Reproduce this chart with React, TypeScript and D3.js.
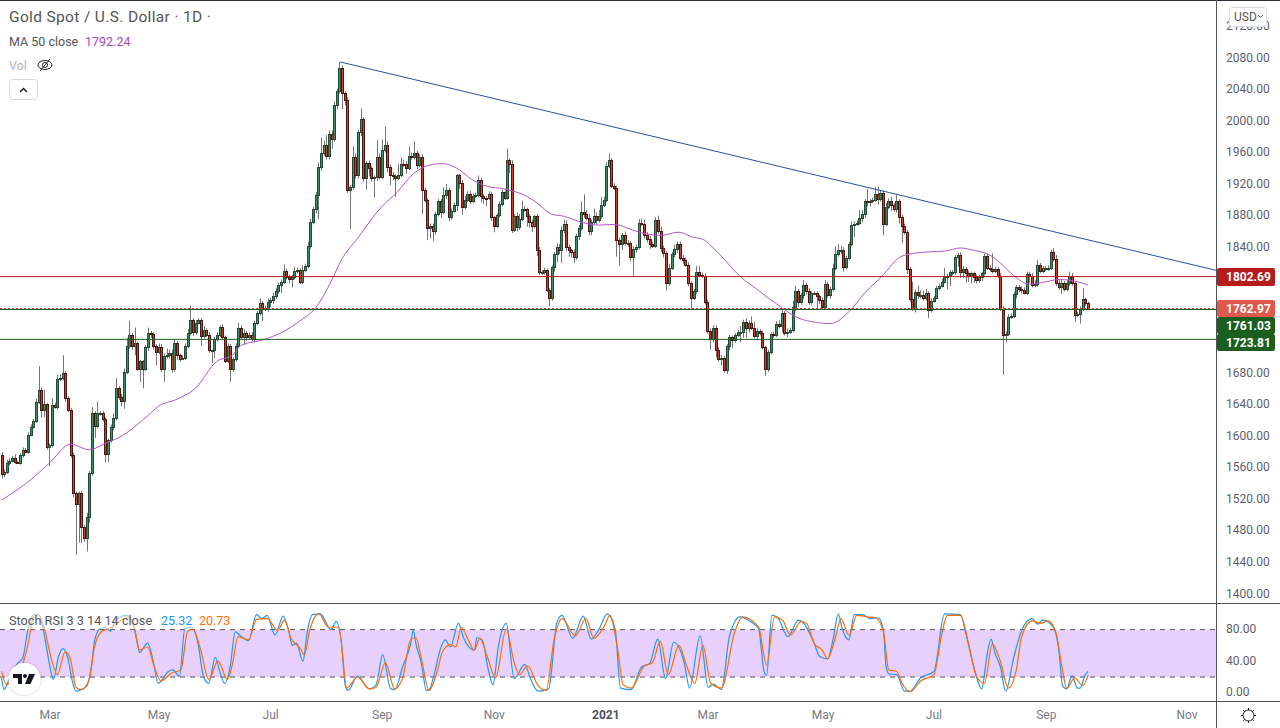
import React from "react";
import * as d3 from "d3";

const firstOpen = 1576;
const closes = [
  1552,1555,1566,1569,1572,1567,1566,1576,1583,1580,
  1602,1612,1619,1644,1659,1634,1641,1586,1589,1640,
  1637,1673,1674,1680,1649,1634,1576,1528,1514,1528,
  1485,1471,1498,1553,1629,1613,1629,1630,1622,1577,
  1595,1612,1623,1661,1650,1645,1682,1715,1728,1715,
  1718,1686,1695,1686,1713,1731,1730,1715,1707,1713,
  1686,1702,1703,1706,1685,1718,1703,1698,1700,1715,
  1731,1748,1732,1744,1748,1727,1735,1729,1709,1709,
  1723,1729,1739,1726,1696,1715,1685,1698,1715,1738,
  1726,1731,1726,1729,1723,1744,1756,1769,1762,1763,
  1771,1773,1778,1785,1792,
  1796,1810,1802,1799,1802,1810,1811,1796,1811,1816,
  1842,1872,1888,1906,1942,1959,1970,1956,1984,1977,
  2020,2038,2067,2035,2027,1912,1916,1954,1932,1986,
  2002,1928,1947,1940,1928,1929,1954,1929,1963,1969,
  1942,1931,1930,1928,1932,1946,1945,1941,1956,1954,
  1959,1944,1955,1912,1900,1864,1867,1861,1882,1898,
  1885,1906,1913,1878,1886,1894,1931,1922,1891,1900,
  1908,1898,1905,1906,1925,1905,1903,1902,1908,1878,
  1867,1881,1895,1910,1903,1950,1946,1862,1879,1865,
  1876,1889,1888,1880,1872,1867,1880,1837,1808,1808,
  1811,1786,1775,1815,1831,1840,1836,1862,1870,1840,
  1836,1834,1827,1854,1864,
  1885,1882,1877,1860,1872,
  1879,1874,1879,1894,1900,1943,1950,1918,1915,1849,
  1844,1855,1845,1845,1828,1838,1840,1871,1870,1856,
  1851,1844,1842,1875,1861,1839,1833,1794,1814,1831,
  1838,1844,1826,1824,1818,1794,1776,1784,1809,1805,
  1804,1770,1734,1724,1738,1710,1698,1700,1684,1715,
  1726,1722,1729,1732,1733,1745,1737,1744,1738,1727,
  1734,1731,1713,1685,1707,1730,1729,1743,1740,1756,
  1731,1733,1735,1764,1784,1770,
  1779,1792,1784,1770,1782,1782,1778,1773,1764,1793,
  1779,1787,1814,1831,1836,1837,1815,1826,1844,1868,
  1870,1871,1877,1882,1899,1897,1899,1900,1907,1901,
  1909,1870,1891,1899,1893,1889,1898,1878,1867,1859,
  1812,1774,1762,1783,1779,1779,1775,1782,1760,1772,
  1776,1788,1791,1796,1802,1803,1808,1808,1827,1830,
  1809,1812,1807,1804,1807,1802,1798,1802,1807,1829,
  1814,1812,1810,1812,1804,1762,1729,1730,1752,1753,
  1780,1789,1787,1786,1782,1806,1804,1792,1793,1817,
  1810,1813,1813,1814,1834,1825,1795,1789,1794,1787,
  1794,1804,1794,1754,1755,1762,1774,1769,1763,
];

// how far each wick sticks out of its body, in dollars
const upperWicks = [
  4,3,4,3,3,5,2,3,3,2, 3,3,3,4,30,3,18,1,2,8, 3,5,5,23,3,2,2,3,2,2, 3,3,5,3,8,3,15,2,2,2,
  2,3,6,13,3,4,4,10,19,3, 20,2,2,2,3,7,3,2,2,5, 4,3,8,4,4,5,3,2,3,3, 5,18,2,4,2,2,5,2,3,1,
  3,3,2,3,2,3,2,2,3,6, 3,5,3,3,3,3,3,6,3,3, 4,3,4,3,3, 3,8,3,3,3,5,3,2,6,3,
  5,4,3,4,5,20,5,12,4,4, 5,3,8,4,3,3,3,14,5,3, 14,3,2,3,3,2,22,5,14,24, 5,3,4,3,14,8,5,4,12,4,
  15,3,3,3,3,2,3,3,3,3, 3,10,7,2,3,3,2,2,3,5, 3,3,3,3,6,3,2,2,3,2, 2,2,3,3,2,15,3,4,3,5,
  6,10,3,2,2,3,1,2,3,3, 3,2,2,2,3,5,4,4,5,4, 3,2,3,3,4, 13,22,5,5,3,
  10,5,8,10,4,5,9,3,3,3, 3,3,5,4,3,3,3,5,5,5, 3,3,3,3,5,5,3,2,5,3, 5,3,3,4,3,3,3,3,7,7,
  3,3,3,3,3,3,3,3,2,2, 3,2,2,3,7,3,5,3,8,7, 3,2,3,2,3,2,3,3,4,4, 3,4,3,8,7,
  3,3,6,3,4,2,2,2,2,3, 5,3,3,5,10,8,5,3,3,3, 5,3,3,10,5,2,15,2,3,9, 10,3,3,5,3,5,3,8,3,3,
  3,3,3,22,3,8,6,6,5,2, 3,2,3,3,4,12,3,3,3,3, 3,3,4,3,3,2,2,3,3,2, 3,3,3,20,3,3,3,3,3,3,
  3,3,3,3,3,3,3,3,3,5, 7,3,3,3,3,3,5,5,3,5, 3,4,5,3,3,3,3,14,2,2,
];
const lowerWicks = [
  5,4,3,3,2,2,1,2,3,1, 2,2,2,2,3,10,10,3,24,3, 2,3,3,3,5,3,3,5,64,49, 20,5,17,8,3,15,3,3,3,10,
  10,3,4,3,4,7,10,3,4,5, 12,3,17,25,3,5,5,5,17,3, 4,17,3,4,4,3,6,3,1,3, 3,3,5,3,2,12,3,3,3,16,
  10,3,3,3,3,3,16,3,3,3, 3,10,5,3,3,4,3,3,16,3, 5,7,5,4,4, 10,3,3,5,10,3,3,3,3,3,
  3,4,3,5,30,5,3,5,5,12, 3,5,3,20,7,3,49,3,5,5, 5,5,15,10,5,25,5,3,3,3, 7,12,5,24,3,3,3,8,3,3,
  3,5,3,30,3,15,13,13,5,3, 8,3,5,5,3,2,8,8,10,3, 3,3,2,3,3,8,8,10,2,5, 8,3,3,3,3,3,12,4,3,5,
  3,3,3,14,7,8,3,8,3,3, 3,3,10,3,6,10,5,16,4,5, 8,7,7,3,5, 3,5,3,5,5,
  3,5,3,3,3,3,3,3,3,21, 28,8,3,5,6,25,5,3,3,5, 5,6,3,3,4,5,6,9,3,3, 4,5,3,5,3,4,14,3,3,3,
  3,3,4,14,5,10,3,8,3,5, 6,10,3,3,12,8,12,5,3,3, 5,3,3,8,3,3,4,3,3,8, 3,5,3,3,5,
  6,3,5,4,3,3,3,18,5,3, 3,3,4,3,3,3,5,6,3,3, 3,15,3,3,5,5,5,5,3,3, 7,3,15,3,3,7,4,5,8,22,
  3,6,3,3,5,4,4,3,3,10, 3,3,2,3,2,2,15,12,4,3, 12,8,8,12,8,10,7,4,3,5, 3,3,3,3,3,3,3,51,10,3,
  3,3,5,4,5,2,3,10,3,3, 3,3,3,3,3,3,3,4,3,8, 3,3,3,3,9,3,12,3,4,3,
];

// [bar, price]
const ma50: [number, number][] = [
  [0,1519],[11,1545],[18,1566],[26,1590],[33,1583],[39,1591],[45,1600],[55,1626],[59,1638],[66,1647],
  [73,1661],[81,1695],[87,1703],[90,1715],[99,1723],[105,1731],[113,1748],[118,1762],[124,1796],[128,1824],
  [134,1851],[143,1891],[149,1910],[155,1933],[161,1944],[166,1946],[172,1939],[177,1926],[183,1917],[189,1914],
  [198,1904],[202,1895],[207,1882],[212,1879],[217,1873],[225,1868],[231,1869],[235,1865],[240,1859],[248,1855],
  [255,1859],[260,1853],[264,1850],[270,1832],[278,1803],[285,1785],[293,1765],[300,1750],[306,1745],[312,1743],
  [319,1758],[325,1782],[332,1805],[338,1827],[343,1832],[349,1834],[355,1835],[361,1839],[366,1836],[372,1830],
  [376,1820],[381,1804],[387,1793],[393,1796],[398,1799],[404,1797],[409,1792],
];

const stochK: [number, number][] = [
  [0,19],[1,4],[2,10],[4,27],[6,37],[8,44],[10,81],[12,99],[14,99],[16,75],[18,37],[19.5,17],[21.5,46],[23,56],[25,44],[26.5,17],[28,2],[30,4],[32,8],[34,37],
  [35,65],[37,81],[39,83],[41,78],[43,92],[47,98],[49.5,87],[51,65],[52,51],[55,63],[57,42],[59,12],[61,19],[62.5,26],[64.5,29],[67,21],[69,81],[71.5,83],[74,62],[76,21],
  [78,12],[80.5,45],[82,29],[84,12],[86,31],[88,77],[90,72],[93,66],[96,99],[98,94],[100,98],[103,73],[106,97],[108,80],[109.5,60],[111,63],[113.5,40],[115,75],[117,99],[120,100],
  [124,80],[126,90],[128,62],[129.5,8],[130.5,3],[134,21],[138.5,5],[141,10],[143.5,48],[146.5,5],[148,4],[151,33],[154,62],[155,79],[156,62],[158,38],[160,3],[161,4],[163,25],[165,53],
  [167,67],[169,58],[172,88],[174,69],[178,54],[179,70],[181,67],[183,33],[185,10],[187,58],[190,88],[193,18],[197,36],[199,19],[202,2],[206,5],[209,88],[211,98],[215,69],[219,97],
  [222,68],[225,81],[228,100],[231,81],[233,6],[237,4],[241,33],[244,37],[247,68],[250,18],[253,64],[257,38],[259,6],[263,72],[266,7],[268,11],[271,4],[274,71],[278,96],[282,90],
  [285,81],[287,28],[288,22],[290,98],[292,96],[296,71],[300,92],[302,88],[306,62],[308,46],[311,43],[313,67],[315,100],[316.5,81],[319,67],[321,99],[324,99],[327,94],[330,95],[332,79],
  [333,33],[334,24],[337,23],[340,2],[342,2],[346,19],[351,27],[355,100],[361,99],[363,75],[366,33],[369,5],[371,48],[372.5,68],[374,50],[376,33],[378,2],[381,44],[384,79],[388,94],
  [390,87],[392,92],[396,83],[398,54],[399.5,8],[401,5],[403,22],[405,6],[406,6],[408,23],[409,27],
];
const stochD: [number, number][] = [
  [0,27],[2,10],[5,27],[7.5,33],[10,62],[12,96],[14,99],[16,83],[19,40],[21,23],[24,52],[26,42],[28,7],[30,4],[33,17],[35,58],[37.5,77],[40,81],[42.5,85],[47.5,96],
  [50,83],[52,54],[55,58],[57.5,33],[60,15],[64,25],[67.5,29],[70,77],[72,81],[75,54],[78,17],[81.5,40],[85,17],[87,37],[89,71],[93,67],[96,93],[100,94],[104,79],[106.5,92],
  [109,69],[112.5,56],[114,48],[116,79],[119.5,100],[123,83],[127,83],[130,6],[134,20],[138.5,5],[141,7],[144.5,38],[148,5],[151,19],[154,67],[156,70],[158,44],[161,3],[164,27],[166,52],
  [169,61],[171,58],[173,83],[176,65],[178,54],[180,69],[183,44],[186,19],[190,81],[193,38],[195,23],[198,34],[202,9],[205,3],[208,67],[211,94],[216,72],[220,94],[223,69],[227,85],
  [229,98],[232,54],[234,10],[237,6],[242,34],[245,38],[248,65],[251,23],[255,60],[258,33],[261,12],[264,60],[267,12],[271,6],[276,77],[279,96],[285,83],[288,35],[291,96],[294,92],
  [297,73],[301,90],[303,88],[306,62],[309,54],[311,43],[314,71],[316,94],[319,73],[322,98],[326,96],[329,95],[332,77],[334,29],[337,27],[339,12],[342,1],[346,15],[351,23],[354,75],
  [356,98],[361,98],[364,63],[367,21],[370,12],[373,62],[376,40],[379,6],[382,29],[384,71],[388,91],[391,88],[394,91],[397,75],[399,37],[401,6],[404,19],[407,9],[409,22],
];

const priceTicks = [2120,2080,2040,2000,1960,1920,1880,1840,1680,1640,1600,1560,1520,1480,1440,1400];
const stochTicks = [80,40,0];
const monthLabels = ["Mar","May","Jul","Sep","Nov","2021","Mar","May","Jul","Sep","Nov"];
const monthBars = [18.3,59.3,101.3,143.3,185.5,227.5,266,309.3,351,393.3,446.3];
const trendBars = [127.5,458];
const trendPrices = [2075,1810];
const levelResistance = 1802.69;
const levelBid = 1762.97;
const levelAsk = 1761.03;
const levelSupport = 1723.81;

const FONT = "Roboto, 'Noto Sans', sans-serif";
const PLOT_R = 1216;
const UP = "#3a9167", UP_EDGE = "#234a36", DOWN = "#cf3d2d", DOWN_EDGE = "#4d1510";

const bars = closes.map((c, i) => {
  const o = i === 0 ? firstOpen : closes[i - 1];
  return { i, o, c, h: Math.max(o, c) + upperWicks[i], l: Math.min(o, c) - lowerWicks[i] };
});

const x = d3.scaleLinear().domain([0, closes.length - 1]).range([1.5, 1088]);
// my bar count drifts through the winter of 2021, so candles get pinned to a few readable spots
const xCandle = d3.scaleLinear().domain([0, 189, 232, 272, 300, closes.length - 1]).range([1.5, 504.5, 611, 721, 798, 1088]);
const y = d3.scaleLinear().domain([2080, 1400]).range([58, 594]);
const yStoch = d3.scaleLinear().domain([0, 100]).range([692.8, 613.8]);

const maPath = d3.line<[number, number]>().x(d => x(d[0])).y(d => y(d[1])).curve(d3.curveMonotoneX)(ma50)!;
const stochLine = d3.line<[number, number]>().x(d => x(d[0])).y(d => yStoch(d[1])).curve(d3.curveMonotoneX);

const PriceTag = ({ value, color, top, h }: { value: number; color: string; top: number; h: number }) => (
  <g>
    <rect x={PLOT_R + 1} y={top} width={58} height={h} rx={2} fill={color} />
    <text x={1226} y={top + h / 2 + 4} fill="#fff" fontSize={12} fontWeight={700}>{value.toFixed(2)}</text>
  </g>
);

export default function App() {
  const axisText = "#5d606b";
  return (
    <svg width={1280} height={728} style={{ position: "fixed", left: 0, top: 0, background: "#fff" }} fontFamily={FONT}>
      <defs>
        <clipPath id="main"><rect x={0} y={1} width={PLOT_R} height={602} /></clipPath>
        <clipPath id="lower"><rect x={0} y={604} width={PLOT_R} height={97} /></clipPath>
        <filter id="soft" x="-30%" y="-30%" width="160%" height="160%"><feDropShadow dx={0} dy={0} stdDeviation={1.5} floodOpacity={0.25} /></filter>
      </defs>

      {/* candles */}
      <g clipPath="url(#main)">
        {bars.map(b => {
          const X = Math.round(xCandle(b.i));
          const up = b.c >= b.o;
          const top = Math.round(y(Math.max(b.o, b.c)));
          const bot = Math.round(y(Math.min(b.o, b.c)));
          return (
            <g key={b.i}>
              <line x1={X + 0.5} x2={X + 0.5} y1={y(b.h)} y2={y(b.l)} stroke="#757575" />
              <rect x={X - 0.5} y={top + 0.5} width={2} height={Math.max(bot - top, 1)}
                fill={up ? UP : DOWN} stroke={up ? UP_EDGE : DOWN_EDGE} />
            </g>
          );
        })}
        <path d={maPath} fill="none" stroke="#b553cc" strokeWidth={1} />
        <line x1={0} x2={PLOT_R} y1={y(levelResistance)} y2={y(levelResistance)} stroke="#c21a1a" />
        <line x1={0} x2={PLOT_R} y1={309.5} y2={309.5} stroke="#1b5e20" />
        <line x1={0} x2={PLOT_R} y1={308.5} y2={308.5} stroke="#e53935" strokeDasharray="2 2" />
        <line x1={0} x2={PLOT_R} y1={y(levelSupport) + 0.6} y2={y(levelSupport) + 0.6} stroke="#1b5e20" />
        <line x1={x(trendBars[0])} x2={x(trendBars[1])} y1={y(trendPrices[0])} y2={y(trendPrices[1])} stroke="#2a4fa8" />
      </g>

      {/* legend */}
      <text x={9} y={22} fontSize={15.5} letterSpacing={0.35} fill="#555">Gold Spot / U.S. Dollar · 1D ·</text>
      <text x={9} y={46} fontSize={12.5} fill="#555">MA 50 close</text>
      <text x={85} y={46} fontSize={12.5} fill="#ab47bc">1792.24</text>
      <text x={9} y={70} fontSize={12.5} fill="#b2b5be">Vol</text>
      <g stroke="#222" fill="none" strokeWidth={1}>
        <ellipse cx={45} cy={65} rx={7} ry={4.5} />
        <circle cx={45} cy={65} r={2.5} />
        <line x1={40} y1={71} x2={50} y2={59} />
      </g>
      <rect x={9.5} y={79.5} width={28} height={20} rx={3} fill="#fff" stroke="#d6d8e0" />
      <path d="M20 92 L23.5 88.5 L27 92" fill="none" stroke="#222" strokeWidth={1.5} />

      {/* stoch rsi */}
      <g clipPath="url(#lower)">
        <rect x={0} y={yStoch(80)} width={PLOT_R} height={yStoch(20) - yStoch(80)} fill="#e8d0fd" />
        <line x1={0} x2={PLOT_R} y1={yStoch(80)} y2={yStoch(80)} stroke="#555" strokeDasharray="5 5" />
        <line x1={0} x2={PLOT_R} y1={yStoch(20)} y2={yStoch(20)} stroke="#555" strokeDasharray="5 5" />
        <path d={stochLine(stochK)!} fill="none" stroke="#2196f3" strokeWidth={1.2} />
        <path d={stochLine(stochD)!} fill="none" stroke="#ff6d00" strokeWidth={1.2} />
      </g>
      <rect x={7} y={612} width={228} height={17} fill="#fff" opacity={0.55} />
      <text x={9} y={625} fontSize={12.7} fill="#555">Stoch RSI 3 3 14 14 close</text>
      <text x={161} y={625} fontSize={12.5} fill="#2196f3">25.32</text>
      <text x={199} y={625} fontSize={12.5} fill="#ff6d00">20.73</text>

      <g>
        <circle cx={24.5} cy={679} r={16} fill="#fff" filter="url(#soft)" />
        <path d="M13 674 H22 V684 H18 V678 H13 Z" fill="#131722" />
        <circle cx={25} cy={676} r={2} fill="#131722" />
        <path d="M29 674 H35 L30.5 684 H25 Z" fill="#131722" />
      </g>

      {/* frame */}
      <line x1={0} x2={1280} y1={0.5} y2={0.5} stroke="#2a2e39" />
      <line x1={0} x2={1280} y1={603.5} y2={603.5} stroke="#50535e" />
      <line x1={0} x2={1280} y1={701.5} y2={701.5} stroke="#50535e" />
      <line x1={PLOT_R + 0.5} x2={PLOT_R + 0.5} y1={0} y2={728} stroke="#50535e" />

      {/* axes */}
      {priceTicks.map(t => (
        <text key={t} x={1226} y={y(t) + 3.5} fontSize={12} fill={axisText}>{t.toFixed(2)}</text>
      ))}
      {stochTicks.map(t => (
        <text key={t} x={1226} y={yStoch(t) + 3.5} fontSize={12} fill={axisText}>{t.toFixed(2)}</text>
      ))}
      {monthLabels.map((m, i) => (
        <text key={i} x={x(monthBars[i])} y={719} textAnchor="middle" fontSize={12}
          fontWeight={m === "2021" ? 700 : 400} fill={m === "2021" ? "#50535e" : "#787b86"}>{m}</text>
      ))}

      <rect x={1229.5} y={7.5} width={37} height={19} rx={3} fill="#fff" stroke="#d6d8e0" />
      <text x={1234} y={21} fontSize={12} fill="#555">USD</text>
      <path d="M1258 15 L1260.5 17.5 L1263 15" fill="none" stroke="#555" />

      <PriceTag value={levelResistance} color="#b71c1c" top={268} h={18} />
      <PriceTag value={levelBid} color="#e0594a" top={300} h={17} />
      <PriceTag value={levelAsk} color="#1b5e20" top={317} h={17} />
      <PriceTag value={levelSupport} color="#1b5e20" top={334} h={17} />

      {/* settings */}
      <g stroke="#131722" fill="none" strokeWidth={1}>
        <circle cx={1248.5} cy={715.5} r={5.5} />
        {d3.range(8).map(k => {
          const a = (k * Math.PI) / 4;
          return <line key={k} x1={1248.5 + Math.cos(a) * 5.5} y1={715.5 + Math.sin(a) * 5.5} x2={1248.5 + Math.cos(a) * 7.5} y2={715.5 + Math.sin(a) * 7.5} />;
        })}
      </g>
    </svg>
  );
}
